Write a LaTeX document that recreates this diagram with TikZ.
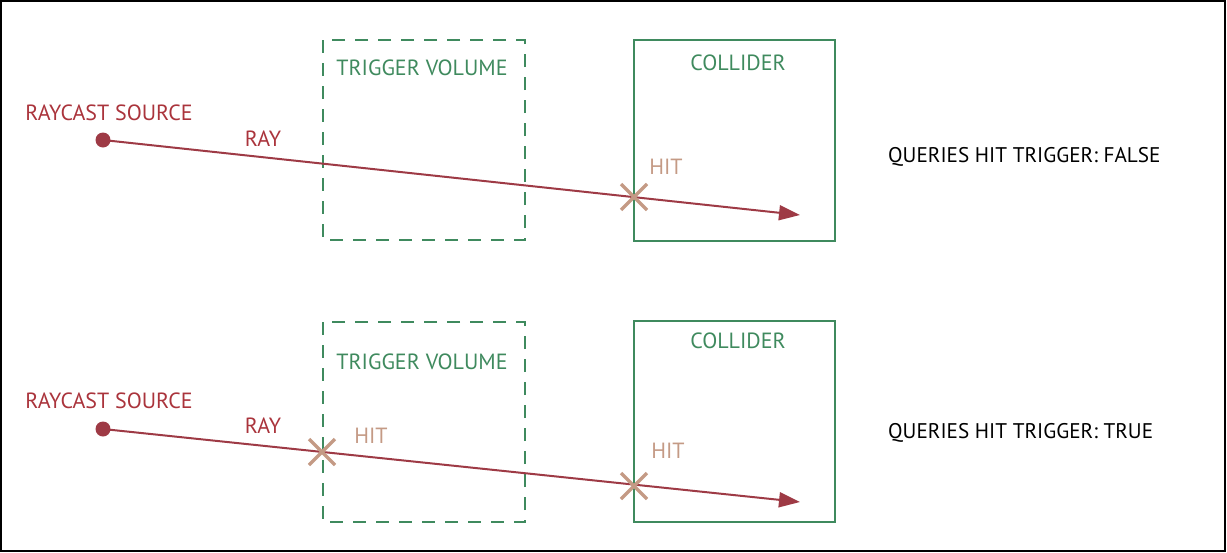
\documentclass[tikz,border=0pt]{standalone}
\usepackage{fontspec}
\setmainfont{PT Sans}
\usetikzlibrary{arrows.meta,calc}
\definecolor{rayred}{RGB}{158,58,69}
\definecolor{srcred}{RGB}{170,52,60}
\definecolor{boxgreen}{RGB}{63,138,94}
\definecolor{hittan}{RGB}{196,154,133}
\tikzset{
  x=1pt, y=-1pt,
  lbl/.style={font=\fontsize{22}{26}\selectfont, inner sep=0pt},
  srclbl/.style={lbl, text=srcred},
  greenlbl/.style={lbl, text=boxgreen},
  hitlbl/.style={lbl, text=hittan},
  blacklbl/.style={font=\fontsize{21.2}{25}\selectfont, inner sep=0pt, text=black},
  trigbox/.style={draw=boxgreen, line width=2pt, dash pattern=on 13pt off 10pt},
  collbox/.style={draw=boxgreen, line width=2pt},
  ray/.style={draw=rayred, line width=2pt, -{Triangle[length=21pt,width=15pt]}},
  srcdot/.style={circle, fill=rayred, minimum size=15pt, inner sep=0pt},
  crossline/.style={draw=hittan, line width=3.5pt},
}
\begin{document}
\begin{tikzpicture}
\useasboundingbox (0,0) rectangle (1227,552);
\draw[line width=2pt] (1,1) rectangle (1225,551);

% ---------- top panel ----------
\draw[trigbox] (323,40) rectangle (525,240);
\draw[collbox] (634,40) rectangle (835,241);
\node[greenlbl] (tv1) at (422,68) {TRIGGER VOLUME};
\node[greenlbl] (col1) at (738,63) {COLLIDER};
\node[srclbl] (rs1) at (109,113) {RAYCAST SOURCE};
\node[srclbl] (ray1) at (263,139) {RAY};
\node[srcdot] (s1) at (103,140) {};
\coordinate (e1) at (800,215);
\draw[ray] (s1.center) -- (e1);
\coordinate (h1) at (634,197);
\draw[crossline] ($(h1)+(-13,-13)$) -- ($(h1)+(13,13)$);
\draw[crossline] ($(h1)+(-13,13)$) -- ($(h1)+(13,-13)$);
\node[hitlbl] (hl1) at (666,167) {HIT};
\node[blacklbl, anchor=west] (q1) at (888,157) {QUERIES HIT TRIGGER: FALSE};

% ---------- bottom panel ----------
\draw[trigbox] (323,322) rectangle (525,522);
\draw[collbox] (634,321) rectangle (835,522);
\node[greenlbl] (tv2) at (422,362) {TRIGGER VOLUME};
\node[greenlbl] (col2) at (738,341) {COLLIDER};
\node[srclbl] (rs2) at (109,401) {RAYCAST SOURCE};
\node[srclbl] (ray2) at (263,426) {RAY};
\node[srcdot] (s2) at (103,429) {};
\coordinate (e2) at (800,502);
\draw[ray] (s2.center) -- (e2);
\coordinate (h2) at (322,452);
\draw[crossline] ($(h2)+(-13,-13)$) -- ($(h2)+(13,13)$);
\draw[crossline] ($(h2)+(-13,13)$) -- ($(h2)+(13,-13)$);
\node[hitlbl] (hl2) at (371,436) {HIT};
\coordinate (h3) at (634,486);
\draw[crossline] ($(h3)+(-13,-13)$) -- ($(h3)+(13,13)$);
\draw[crossline] ($(h3)+(-13,13)$) -- ($(h3)+(13,-13)$);
\node[hitlbl] (hl3) at (668,451) {HIT};
\node[blacklbl, anchor=west] (q2) at (888,433) {QUERIES HIT TRIGGER: TRUE};
\end{tikzpicture}
\end{document}
